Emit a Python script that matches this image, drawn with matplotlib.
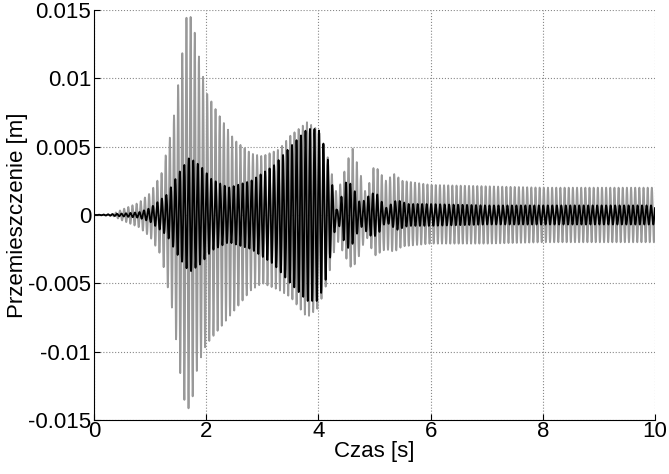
import matplotlib
matplotlib.use("Agg")
import matplotlib.pyplot as plt
import numpy as np

plt.rcParams["font.family"] = ["Liberation Sans", "DejaVu Sans"]

# envelope knots (time [s], amplitude [m])
gray_t = [0.0, 0.3, 0.5, 0.8, 1.0, 1.2, 1.4, 1.55, 1.65, 1.75, 1.85, 2.0, 2.2, 2.5, 2.8, 3.0, 3.3,
          3.5, 3.8, 4.0, 4.15, 4.33, 4.45, 4.6, 4.75, 4.85, 5.0, 5.2, 5.35, 5.5, 6.0, 7.0, 8.0, 10.0]
gray_up = [0.0, 0.0, 0.0004, 0.0009, 0.0016, 0.003, 0.0065, 0.011, 0.0145, 0.0145, 0.012, 0.009,
           0.0075, 0.0055, 0.0045, 0.0043, 0.0048, 0.0058, 0.0068, 0.0062, 0.0045, 0.0015, 0.003,
           0.005, 0.003, 0.0015, 0.0037, 0.0025, 0.003, 0.0025, 0.0022, 0.0021, 0.002, 0.002]
gray_dn = [0.0, 0.0, 0.0004, 0.0009, 0.0016, 0.003, 0.007, 0.012, 0.0145, 0.0135, 0.011, 0.0095,
           0.0085, 0.007, 0.0055, 0.005, 0.0055, 0.006, 0.0075, 0.0068, 0.005, 0.0018, 0.0028,
           0.004, 0.0028, 0.0015, 0.003, 0.0025, 0.0027, 0.0023, 0.0021, 0.0021, 0.002, 0.002]

black_t = [0.0, 0.5, 0.8, 1.0, 1.3, 1.5, 1.7, 1.9, 2.1, 2.4, 2.8, 3.2, 3.5, 3.8, 4.0, 4.15, 4.33,
           4.5, 4.6, 4.75, 4.95, 5.05, 5.2, 5.4, 5.6, 6.0, 7.0, 10.0]
black_amp = [0.0, 0.0001, 0.0002, 0.0005, 0.0015, 0.003, 0.0042, 0.0036, 0.0026, 0.002, 0.0025,
             0.0036, 0.005, 0.0063, 0.0063, 0.0045, 0.0003, 0.0025, 0.0022, 0.0008, 0.0016, 0.0015,
             0.0005, 0.0011, 0.0008, 0.0008, 0.0007, 0.0007]

gray_freq = 13.5   # Hz, counted from peaks
black_freq = 12.5  # Hz

t = np.linspace(0, 10, 8000)
g_env_up = np.interp(t, gray_t, gray_up)
g_env_dn = np.interp(t, gray_t, gray_dn)
carrier_g = np.sin(2 * np.pi * gray_freq * t)
gray = np.where(carrier_g > 0, g_env_up, g_env_dn) * carrier_g

b_env = np.interp(t, black_t, black_amp)
black = b_env * np.sin(2 * np.pi * black_freq * t + 0.8)

fig = plt.figure(figsize=(6.69, 4.74), dpi=100)
ax = fig.add_axes([0.1405, 0.114, 0.8385, 0.865])
ax.plot(t, gray, color="#999999", lw=1.3)
ax.plot(t, black, color="black", lw=1.3)

ax.set_xlim(0, 10)
ax.set_ylim(-0.015, 0.015)
ax.set_xticks([0, 2, 4, 6, 8, 10])
ax.set_yticks([-0.015, -0.01, -0.005, 0, 0.005, 0.01, 0.015])
ax.set_yticklabels(["-0.015", "-0.01", "-0.005", "0", "0.005", "0.01", "0.015"])
ax.tick_params(labelsize=16, direction="in", length=4)
ax.tick_params(axis="x", pad=1)
ax.tick_params(axis="y", pad=2)
ax.grid(True, linestyle=":", color="#888888", lw=0.8)
ax.spines["top"].set_visible(False)
ax.spines["right"].set_visible(False)
ax.set_xlabel("Czas [s]", fontsize=16, labelpad=-1)
ax.set_ylabel("Przemieszczenie [m]", fontsize=16, labelpad=0)

fig.savefig("out.png", dpi=100)
